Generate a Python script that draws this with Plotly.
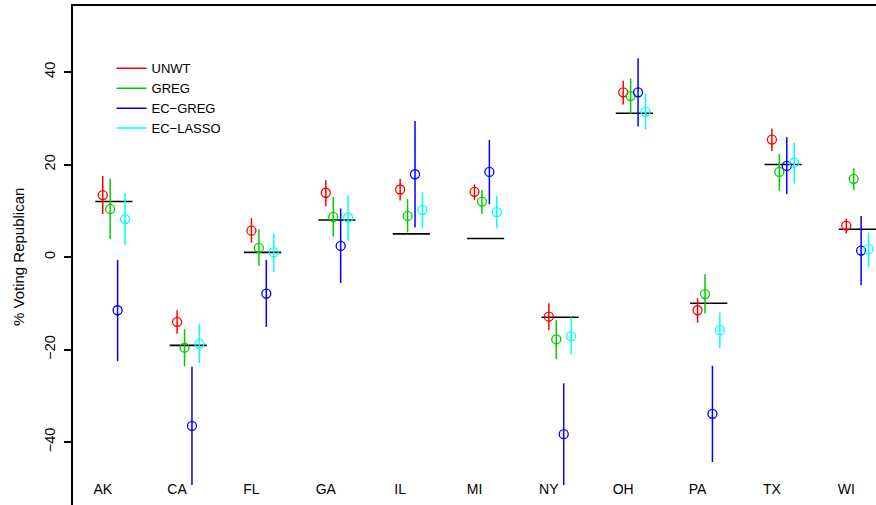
import plotly.graph_objects as go

states = ["AK", "CA", "FL", "GA", "IL", "MI", "NY", "OH", "PA", "TX", "WI"]
truth = [12.0, -19.1, 1.0, 8.0, 5.0, 4.0, -13.0, 31.1, -10.0, 20.0, 6.0]

unwt_est = [13.4, -14.0, 5.7, 13.9, 14.6, 14.1, -12.9, 35.6, -11.5, 25.4, 6.8]
unwt_lo = [9.3, -16.6, 3.1, 11.0, 12.2, 12.3, -15.8, 33.0, -14.2, 22.9, 5.1]
unwt_hi = [17.5, -11.5, 8.4, 16.6, 16.9, 15.7, -10.0, 38.1, -8.9, 27.8, 8.3]

greg_est = [10.4, -19.6, 2.0, 8.7, 8.9, 12.0, -17.8, 34.8, -8.0, 18.4, 16.9]
greg_lo = [3.9, -23.6, -1.9, 4.4, 5.3, 9.3, -22.1, 30.9, -12.2, 14.3, 14.5]
greg_hi = [16.9, -15.6, 6.0, 13.0, 12.5, 14.5, -13.6, 38.6, -3.7, 22.3, 19.2]

ecgreg_est = [-11.5, -36.5, -7.9, 2.4, 17.9, 18.4, -38.3, 35.6, -33.9, 19.7, 1.4]
ecgreg_lo = [-22.5, -49.3, -15.1, -5.6, 6.4, 11.4, -49.3, 28.2, -44.3, 13.6, -6.1]
ecgreg_hi = [-0.6, -23.7, -0.6, 10.5, 29.4, 25.3, -27.3, 43.0, -23.5, 25.9, 8.9]

eclasso_est = [8.2, -18.7, 1.0, 8.5, 10.2, 9.7, -17.1, 31.4, -15.8, 20.4, 1.7]
eclasso_lo = [2.6, -22.9, -3.2, 3.5, 6.2, 6.2, -21.0, 27.6, -19.7, 15.9, -2.1]
eclasso_hi = [13.8, -14.5, 5.1, 13.3, 14.0, 13.2, -13.0, 35.4, -12.0, 24.7, 5.3]

series = [
    ("UNWT", "#FF0000", unwt_est, unwt_lo, unwt_hi),
    ("GREG", "#00CD00", greg_est, greg_lo, greg_hi),
    ("EC\u2212GREG", "#0000FF", ecgreg_est, ecgreg_lo, ecgreg_hi),
    ("EC\u2212LASSO", "#00FFFF", eclasso_est, eclasso_lo, eclasso_hi),
]

FONT = "Liberation Sans, Arial, sans-serif"
pos = list(range(1, len(states) + 1))
offset = 0.1

fig = go.Figure()

# truth segments
fig.add_trace(go.Scatter(
    x=[p + 0.15 for p in pos], y=truth, mode="markers",
    marker=dict(size=1, opacity=0),
    error_x=dict(type="constant", value=0.25, width=0, thickness=1.6, color="black"),
    showlegend=False, hoverinfo="skip",
))

for k, (name, col, est, lo, hi) in enumerate(series):
    fig.add_trace(go.Scatter(
        x=[p + k * offset for p in pos], y=est, mode="markers",
        marker=dict(symbol="circle-open", size=9, color=col, line=dict(width=1.3, color=col)),
        error_y=dict(type="data", symmetric=False,
                     array=[h - e for h, e in zip(hi, est)],
                     arrayminus=[e - l for e, l in zip(est, lo)],
                     width=0, thickness=1.5, color=col),
        showlegend=False, name=name,
    ))

for name, col, *_ in series:
    fig.add_trace(go.Scatter(x=[None], y=[None], mode="lines", name=name,
                             line=dict(color=col, width=1.5)))

# state labels
fig.add_trace(go.Scatter(
    x=pos, y=[-50.4] * len(pos), mode="text", text=states,
    textfont=dict(family=FONT, size=14, color="black"),
    showlegend=False, hoverinfo="skip",
))

fig.update_layout(
    width=876, height=505,
    margin=dict(l=73, r=0, t=6, b=0),
    paper_bgcolor="white", plot_bgcolor="white",
    font=dict(family=FONT, size=14, color="black"),
    xaxis=dict(range=[0.6, 11.40], side="top", showline=True, linewidth=2, linecolor="black",
               showticklabels=False, ticks="", showgrid=False, zeroline=False),
    yaxis=dict(range=[-53.6, 54.27], tickvals=[-40, -20, 0, 20, 40],
               ticktext=["\u221240", "\u221220", "0", "20", "40"],
               ticks="outside", ticklen=7, tickwidth=1.5, tickcolor="black",
               tickangle=-90, ticklabelstandoff=3,
               tickfont=dict(family=FONT, size=14.5, color="black"),
               showline=True, linewidth=2, linecolor="black",
               showgrid=False, zeroline=False),
    legend=dict(x=0.048, y=0.905, xanchor="left", yanchor="top",
                font=dict(family=FONT, size=13, color="black"),
                bgcolor="rgba(0,0,0,0)", borderwidth=0, tracegroupgap=0),
    annotations=[dict(text="% Voting Republican", textangle=-90, xref="paper", yref="y",
                      x=-55 / 803, y=0, xanchor="center", yanchor="middle", showarrow=False,
                      font=dict(family=FONT, size=15, color="black"))],
)

fig.write_html("out.html")
